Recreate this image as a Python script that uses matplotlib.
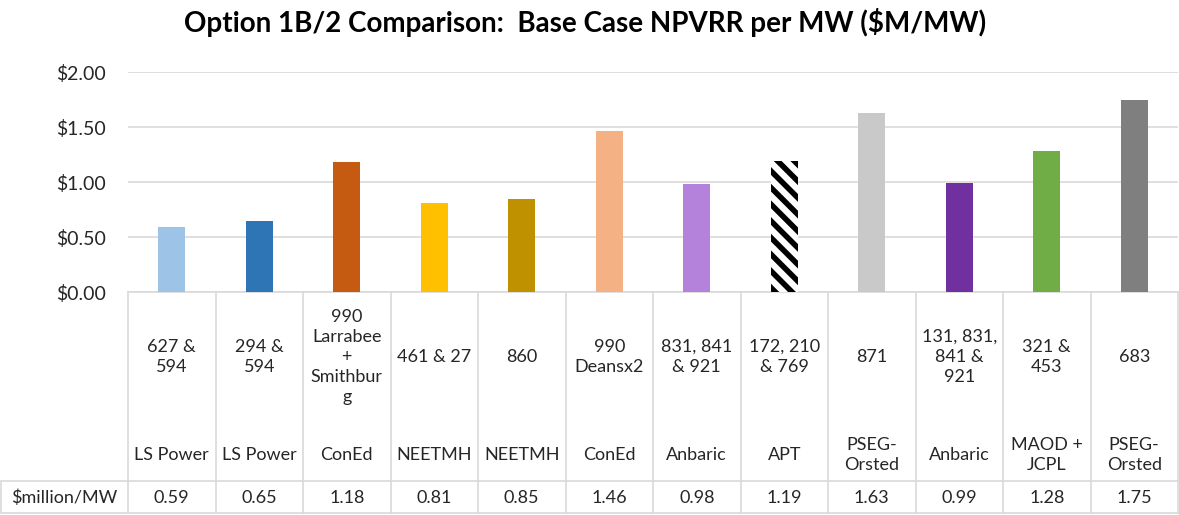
import matplotlib.pyplot as plt
import matplotlib.transforms as mtransforms
import numpy as np

plt.rcParams['font.family'] = ['Lato', 'DejaVu Sans']
plt.rcParams['hatch.linewidth'] = 4

# data
projects = ['627 &\n594', '294 &\n594', '990\nLarrabee\n+\nSmithbur\ng', '461 & 27', '860',
            '990\nDeansx2', '831, 841\n& 921', '172, 210\n& 769', '871', '131, 831,\n841 &\n921',
            '321 &\n453', '683']
companies = ['LS Power', 'LS Power', 'ConEd', 'NEETMH', 'NEETMH', 'ConEd', 'Anbaric', 'APT',
             'PSEG-\nOrsted', 'Anbaric', 'MAOD +\nJCPL', 'PSEG-\nOrsted']
values = [0.59, 0.65, 1.18, 0.81, 0.85, 1.46, 0.98, 1.19, 1.63, 0.99, 1.28, 1.75]
colors = ['#9DC3E6', '#2E75B6', '#C55A11', '#FFC000', '#BF9000', '#F4B183', '#B482DA', 'white',
          '#C9C9C9', '#7030A0', '#70AD47', '#7F7F7F']
row_label = '$million/MW'
yticks = [0, 0.5, 1.0, 1.5, 2.0]

grid_c = '#D9D9D9'
text_c = '#262626'

fig = plt.figure(figsize=(11.79, 5.15), dpi=100)
ax = fig.add_axes([128 / 1179, 1 - 292 / 515, 1050 / 1179, 220 / 515])

x = np.arange(len(values))
bars = ax.bar(x, values, width=0.31, color=colors, linewidth=0, zorder=3)
# APT bar is hatched
bars[7].set_hatch('\\\\')
bars[7].set_edgecolor('black')

ax.set_xlim(-0.5, len(values) - 0.5)
ax.set_ylim(0, 2.0)
ax.set_yticks(yticks)
ax.set_yticklabels(['$%.2f' % v for v in yticks], fontsize=14, color=text_c)
ax.tick_params(axis='y', length=0, pad=16)
ax.set_xticks([])
ax.grid(axis='y', color=grid_c, linewidth=1.2, zorder=0)
for s in ['top', 'right', 'left']:
    ax.spines[s].set_visible(False)
ax.spines['bottom'].set_color(grid_c)
ax.spines['bottom'].set_linewidth(1.2)

fig.suptitle('Option 1B/2 Comparison:  Base Case NPVRR per MW ($M/MW)', fontsize=20,
             fontweight='bold', color='black', x=0.496, y=0.985)

# category / table area below axis
trans = mtransforms.blended_transform_factory(ax.transData, ax.transAxes)
y_row_top = -(481 - 292) / 220
y_row_bot = -(513 - 292) / 220
for i in range(len(values) + 1):
    ax.plot([i - 0.5, i - 0.5], [0, y_row_bot], color=grid_c, lw=1.2,
            transform=trans, clip_on=False)
ax.plot([0, 1], [y_row_top, y_row_top], color=grid_c, lw=1.2, transform=ax.transAxes, clip_on=False)
ax.plot([-0.12, 0], [y_row_top, y_row_top], color=grid_c, lw=1.2, transform=ax.transAxes, clip_on=False)
ax.plot([-0.12, 1], [y_row_bot, y_row_bot], color=grid_c, lw=1.2, transform=ax.transAxes, clip_on=False)
ax.plot([-0.1205, -0.1205], [y_row_top, y_row_bot], color=grid_c, lw=1.2,
        transform=ax.transAxes, clip_on=False)

for i in range(len(values)):
    ax.text(i, -(357 - 292) / 220, projects[i], transform=trans, ha='center', va='center',
            fontsize=13, color=text_c, linespacing=1.3)
    ax.text(i, -(455 - 292) / 220, companies[i], transform=trans, ha='center', va='center',
            fontsize=13, color=text_c, linespacing=1.3)
    ax.text(i, -(498 - 292) / 220, '%.2f' % values[i], transform=trans, ha='center',
            va='center', fontsize=13, color=text_c)

ax.text(-0.0605, -(498 - 292) / 220, row_label, transform=ax.transAxes, ha='center',
        va='center', fontsize=13, color=text_c)

fig.savefig('out.png', dpi=100)
